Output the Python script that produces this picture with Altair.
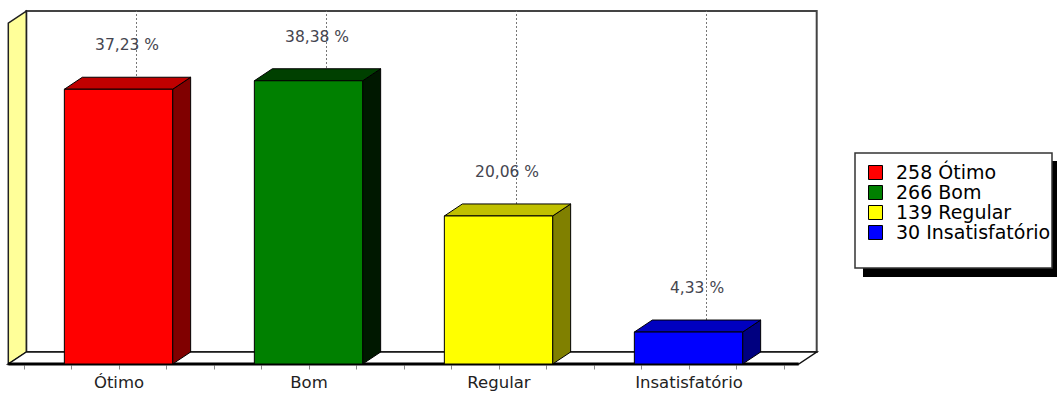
import altair as alt
import pandas as pd

# ---------------- data ----------------
categories = ["Ótimo", "Bom", "Regular", "Insatisfatório"]
counts = [258, 266, 139, 30]
percents = [37.23, 38.38, 20.06, 4.33]
pct_labels = ["37,23 %", "38,38 %", "20,06 %", "4,33 %"]
front_colors = ["#ff0000", "#008000", "#ffff00", "#0000ff"]
top_colors = ["#c00000", "#004000", "#c0c000", "#0000c0"]
side_colors = ["#800000", "#001800", "#808000", "#000080"]

# ---------------- layout (style) ----------------
W, H = 1057, 396
CAT0_PX, PX_PER_CAT = 118.5, 190.0
BASE_PX, PX_PER_PCT = 364.0, 7.38
x_domain = [(0 - CAT0_PX) / PX_PER_CAT, (W - CAT0_PX) / PX_PER_CAT]
y_domain = [(BASE_PX - H) / PX_PER_PCT, BASE_PX / PX_PER_PCT]
DX = 18 / PX_PER_CAT          # depth in category units
DY = 12 / PX_PER_PCT          # depth in percent units
HALF = 0.285                  # half bar width
FL, FR = -0.58, 3.58          # floor extent
WALL_TOP = 46.2
LABEL_RISE = 5.96
LABEL_SHIFT = 0.045

xs = alt.Scale(domain=x_domain, nice=False, zero=False)
ys = alt.Scale(domain=y_domain, nice=False, zero=False)

tick_vals = [k * 0.25 for k in range(-2, 15)]
label_expr = " : ".join(f"datum.value == {i} ? '{c}'" for i, c in enumerate(categories)) + " : ''"
x_axis = alt.Axis(
    values=tick_vals, labelExpr=label_expr, offset=-(H - BASE_PX) + 1, domain=False, grid=False,
    ticks=True, tickSize=4, tickColor="#888888", labelFont="DejaVu Sans", labelFontSize=16.5,
    labelColor="#222222", labelPadding=5, labelOverlap=False, labelFlush=False, labelBound=False,
    title=None,
)


def X(field):
    return alt.X(field, scale=xs, axis=x_axis, title=None)


def Y(field):
    return alt.Y(field, scale=ys, axis=None)


legend_labels = [f"{c} {k}" for c, k in zip(counts, categories)]

bars = pd.DataFrame({
    "name": categories,
    "u": list(range(len(categories))),
    "v": percents,
    "label": pct_labels,
    "legend": legend_labels,
    "topc": top_colors,
    "sidec": side_colors,
})
bars["left"] = bars["u"] - HALF
bars["right"] = bars["u"] + HALF
bars["base"] = 0.0
bars["lx"] = bars["u"] + LABEL_SHIFT
bars["ly"] = bars["v"] + LABEL_RISE
bars["gx"] = bars["u"] + DX
bars["gy"] = DY
bars["gy2"] = WALL_TOP + DY

side_rows, top_rows = [], []
for _, r in bars.iterrows():
    side_rows.append({"name": r["name"], "x": r["right"], "y": r["v"], "y2": 0.0, "fill": r["sidec"]})
    side_rows.append({"name": r["name"], "x": r["right"] + DX, "y": r["v"] + DY, "y2": DY, "fill": r["sidec"]})
    top_rows.append({"name": r["name"], "y": r["v"], "x": r["left"], "x2": r["right"], "fill": r["topc"]})
    top_rows.append({"name": r["name"], "y": r["v"] + DY, "x": r["left"] + DX, "x2": r["right"] + DX, "fill": r["topc"]})
side_df = pd.DataFrame(side_rows)
top_df = pd.DataFrame(top_rows)

# ---------------- walls & floor ----------------
back = alt.Chart(pd.DataFrame({"x": [FL + DX], "x2": [FR + DX], "y": [DY], "y2": [WALL_TOP + DY]})).mark_rect(
    fill="white", stroke="#444444", strokeWidth=2
).encode(x=X("x:Q"), x2="x2:Q", y=Y("y:Q"), y2="y2:Q")

left_wall = alt.Chart(pd.DataFrame({"x": [FL, FL + DX], "y": [WALL_TOP, WALL_TOP + DY], "y2": [0.0, DY]})).mark_area(
    orient="vertical", fill="#ffff99", stroke="#222222", strokeWidth=1.5
).encode(x=X("x:Q"), y=Y("y:Q"), y2="y2:Q")

floor = alt.Chart(pd.DataFrame({"y": [0.0, DY], "x": [FL, FL + DX], "x2": [FR, FR + DX]})).mark_area(
    orient="horizontal", fill="white", stroke="#111111", strokeWidth=1.5
).encode(y=Y("y:Q"), x=X("x:Q"), x2="x2:Q")

front_edge = alt.Chart(pd.DataFrame({"x": [FL], "x2": [FR], "y": [0.0]})).mark_rule(
    color="black", strokeWidth=3
).encode(x=X("x:Q"), x2="x2:Q", y=Y("y:Q"))

grid = alt.Chart(bars).mark_rule(color="#777777", strokeDash=[2, 2], strokeWidth=1).encode(
    x=X("gx:Q"), y=Y("gy:Q"), y2="gy2:Q"
)

# ---------------- bars ----------------
front = alt.Chart(bars).mark_rect(stroke="black", strokeWidth=1, opacity=1).encode(
    x=X("left:Q"),
    x2="right:Q",
    y=Y("base:Q"),
    y2="v:Q",
    color=alt.Color("legend:N", scale=alt.Scale(domain=legend_labels, range=front_colors),
                    sort=legend_labels,
                    legend=alt.Legend(
                        orient="none", legendX=866, legendY=163, title=None, zindex=1,
                        symbolType="square", symbolSize=196, symbolStrokeColor="black",
                        symbolStrokeWidth=1, symbolOpacity=1, labelFont="DejaVu Sans",
                        labelFontSize=19, labelColor="black", labelOffset=11, rowPadding=0,
                        padding=0, labelLimit=400,
                    )),
)

side = alt.Chart(side_df).mark_area(orient="vertical", stroke="black", strokeWidth=1).encode(
    x=X("x:Q"), y=Y("y:Q"), y2="y2:Q",
    detail="name:N", fill=alt.Fill("fill:N", scale=None),
)

top = alt.Chart(top_df).mark_area(orient="horizontal", stroke="black", strokeWidth=1).encode(
    y=Y("y:Q"), x=X("x:Q"), x2="x2:Q",
    detail="name:N", fill=alt.Fill("fill:N", scale=None),
)

values = alt.Chart(bars).mark_text(font="DejaVu Sans", fontSize=15.5, color="#45454f", baseline="middle").encode(
    x=X("lx:Q"), y=Y("ly:Q"), text="label:N"
)

# ---------------- legend frame ----------------
one = pd.DataFrame({"a": [0]})
shadow = alt.Chart(one).mark_rect(color="black").encode(
    x=alt.value(863), x2=alt.value(1060), y=alt.value(161), y2=alt.value(277)
)
box = alt.Chart(one).mark_rect(fill="white", stroke="#333333", strokeWidth=1.5).encode(
    x=alt.value(855), x2=alt.value(1052), y=alt.value(153), y2=alt.value(268)
)

chart = alt.layer(
    back, left_wall, floor, grid, front_edge, side, top, front, values, shadow, box
).properties(
    width=W, height=H, autosize=alt.AutoSizeParams(type="none"), padding=0, background="white"
).configure_view(stroke=None)

chart.save("out.html", embed_options={"renderer": "svg", "actions": False})
